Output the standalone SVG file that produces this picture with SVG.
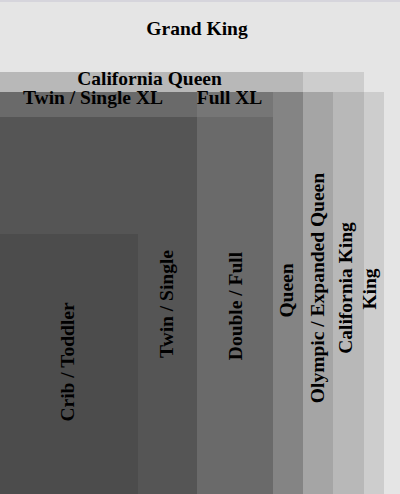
<svg xmlns="http://www.w3.org/2000/svg" width="400" height="494" viewBox="0 0 400 494">
<style>
.bed{fill:#000;fill-opacity:0.1;}
.lbl{font-family:"Liberation Serif","Times New Roman",serif;font-weight:bold;font-size:19.5px;fill:#000;text-anchor:middle;}
</style>
<rect x="0" y="0" width="400" height="494" fill="#fff"/>
<line x1="0" y1="1" x2="400" y2="1" stroke="#c9c7d1" stroke-width="1.4"/>
<g id="grand-king"><rect class="bed" x="0" y="2" width="404" height="494"/><text class="lbl" x="197" y="34.5">Grand King</text></g>
<g id="california-king"><rect class="bed" x="0" y="72" width="364" height="424"/><text class="lbl" transform="translate(351.5,288) rotate(-90)">California King</text></g>
<g id="king"><rect class="bed" x="0" y="92" width="384" height="404"/><text class="lbl" transform="translate(375.5,289) rotate(-90)">King</text></g>
<g id="california-queen"><rect class="bed" x="0" y="72" width="303" height="424"/><text class="lbl" x="149.5" y="85">California Queen</text></g>
<g id="olympic-queen"><rect class="bed" x="0" y="92" width="333" height="404"/><text class="lbl" transform="translate(324,288) rotate(-90)">Olympic / Expanded Queen</text></g>
<g id="queen"><rect class="bed" x="0" y="92" width="303" height="404"/><text class="lbl" transform="translate(292.5,290.5) rotate(-90)">Queen</text></g>
<g id="full-xl"><rect class="bed" x="0" y="92" width="273" height="404"/><text class="lbl" x="229.5" y="104.3">Full XL</text></g>
<g id="twin-xl"><rect class="bed" x="0" y="92" width="197" height="404"/><text class="lbl" x="93" y="104.3">Twin / Single XL</text></g>
<g id="double-full"><rect class="bed" x="0" y="117" width="273" height="379"/><text class="lbl" transform="translate(241.5,306) rotate(-90)">Double / Full</text></g>
<g id="twin-single"><rect class="bed" x="0" y="117" width="197" height="379"/><text class="lbl" transform="translate(172.5,304) rotate(-90)">Twin / Single</text></g>
<g id="crib-toddler"><rect class="bed" x="0" y="234" width="138" height="262"/><text class="lbl" transform="translate(73.5,362) rotate(-90)">Crib / Toddler</text></g>
</svg>
